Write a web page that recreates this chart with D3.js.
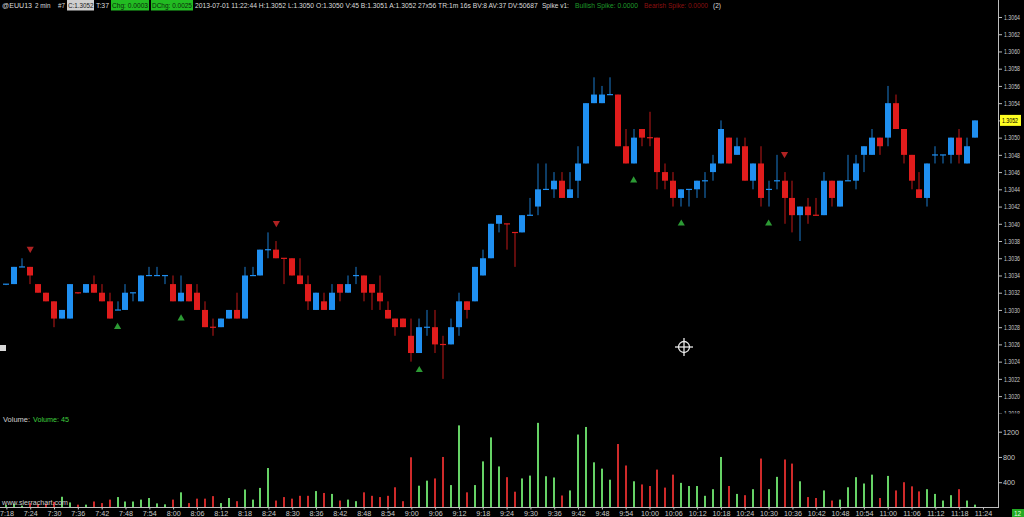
<!DOCTYPE html>
<html><head><meta charset="utf-8">
<script src="https://cdn.jsdelivr.net/npm/d3@7/dist/d3.min.js"></script>
<style>
html,body{margin:0;padding:0;background:#000;overflow:hidden}
svg{display:block}
text{font-family:"Liberation Sans",Arial,sans-serif}
</style>
</head><body>
<svg id="c" width="1024" height="517"></svg>
<script>
// ---- DATA (2-minute bars, 7:18 .. 11:22) ----
const opens=[1.3033,1.3033,1.3035,1.3035,1.3033,1.3032,1.3031,1.3029,1.3029,1.3032,
1.3032,1.3033,1.3032,1.3031,1.3030,1.3030,1.3032,1.3031,1.3034,1.3034,
1.3034,1.3033,1.3031,1.3033,1.3032,1.3030,1.3028,1.3028,1.3029,1.3030,
1.3029,1.3034,1.3034,1.3037,1.3037,1.3036,1.3036,1.3034,1.3033,1.3030,
1.3031,1.3030,1.3033,1.3032,1.3034,1.3034,1.3033,1.3032,1.3030,1.3029,
1.3029,1.3027,1.3025,1.3028,1.3028,1.3026,1.3026,1.3028,1.3031,1.3031,
1.3034,1.3036,1.3040,1.3040,1.3039,1.3039,1.3041,1.3042,1.3044,1.3044,
1.3045,1.3043,1.3045,1.3047,1.3054,1.3054,1.3055,1.3055,1.3049,1.3047,
1.3051,1.3050,1.3050,1.3046,1.3045,1.3043,1.3044,1.3044,1.3045,1.3046,
1.3047,1.3050,1.3048,1.3049,1.3045,1.3047,1.3044,1.3045,1.3045,1.3043,
1.3041,1.3042,1.3041,1.3041,1.3045,1.3042,1.3045,1.3045,1.3048,1.3048,
1.3050,1.3050,1.3054,1.3051,1.3048,1.3044,1.3043,1.3048,1.3048,1.3048,
1.3050,1.3047,1.3050];
const highs=[1.3033,1.3035,1.3036,1.3035,1.3033,1.3032,1.3031,1.3030,1.3033,1.3032,
1.3033,1.3034,1.3033,1.3032,1.3031,1.3033,1.3032,1.3034,1.3035,1.3035,
1.3034,1.3034,1.3034,1.3033,1.3033,1.3031,1.3029,1.3029,1.3030,1.3032,
1.3035,1.3035,1.3037,1.3039,1.3038,1.3036,1.3036,1.3036,1.3034,1.3032,
1.3032,1.3033,1.3033,1.3034,1.3035,1.3034,1.3033,1.3034,1.3031,1.3029,
1.3029,1.3029,1.3029,1.3030,1.3030,1.3027,1.3029,1.3032,1.3031,1.3035,
1.3037,1.3040,1.3041,1.3040,1.3039,1.3041,1.3043,1.3047,1.3047,1.3046,
1.3046,1.3046,1.3049,1.3054,1.3057,1.3056,1.3057,1.3055,1.3051,1.3051,
1.3051,1.3053,1.3050,1.3047,1.3046,1.3044,1.3044,1.3045,1.3046,1.3048,
1.3052,1.3050,1.3050,1.3050,1.3047,1.3049,1.3045,1.3048,1.3046,1.3045,
1.3042,1.3043,1.3043,1.3046,1.3045,1.3045,1.3048,1.3048,1.3049,1.3051,
1.3050,1.3056,1.3055,1.3051,1.3048,1.3046,1.3047,1.3049,1.3048,1.3050,
1.3051,1.3050,1.3052];
const lows=[1.3033,1.3033,1.3035,1.3033,1.3032,1.3031,1.3028,1.3029,1.3029,1.3032,
1.3032,1.3032,1.3031,1.3029,1.3030,1.3030,1.3031,1.3031,1.3034,1.3034,
1.3033,1.3031,1.3031,1.3031,1.3030,1.3028,1.3027,1.3028,1.3029,1.3029,
1.3029,1.3034,1.3034,1.3036,1.3036,1.3033,1.3034,1.3033,1.3030,1.3030,
1.3030,1.3030,1.3031,1.3032,1.3033,1.3031,1.3030,1.3030,1.3029,1.3027,
1.3028,1.3024,1.3025,1.3027,1.3025,1.3022,1.3026,1.3027,1.3029,1.3031,
1.3034,1.3036,1.3039,1.3037,1.3035,1.3039,1.3041,1.3041,1.3044,1.3043,
1.3043,1.3043,1.3043,1.3047,1.3054,1.3054,1.3055,1.3049,1.3047,1.3047,
1.3049,1.3049,1.3044,1.3044,1.3042,1.3042,1.3042,1.3043,1.3043,1.3045,
1.3047,1.3047,1.3048,1.3045,1.3044,1.3042,1.3042,1.3044,1.3040,1.3039,
1.3038,1.3040,1.3041,1.3041,1.3042,1.3042,1.3045,1.3044,1.3046,1.3048,
1.3048,1.3049,1.3051,1.3047,1.3044,1.3043,1.3042,1.3047,1.3047,1.3047,
1.3047,1.3047,1.3050];
const closes=[1.3033,1.3035,1.3035,1.3034,1.3032,1.3031,1.3029,1.3030,1.3033,1.3032,
1.3033,1.3032,1.3031,1.3029,1.3030,1.3032,1.3032,1.3034,1.3034,1.3034,
1.3034,1.3031,1.3032,1.3031,1.3030,1.3028,1.3028,1.3029,1.3030,1.3029,
1.3034,1.3034,1.3037,1.3037,1.3036,1.3036,1.3034,1.3033,1.3031,1.3032,
1.3030,1.3032,1.3032,1.3033,1.3034,1.3032,1.3032,1.3031,1.3029,1.3028,
1.3028,1.3025,1.3028,1.3028,1.3026,1.3026,1.3028,1.3031,1.3030,1.3035,
1.3036,1.3040,1.3041,1.3040,1.3039,1.3041,1.3041,1.3044,1.3044,1.3045,
1.3043,1.3044,1.3047,1.3054,1.3055,1.3055,1.3055,1.3049,1.3047,1.3050,
1.3050,1.3050,1.3046,1.3045,1.3043,1.3044,1.3044,1.3045,1.3045,1.3047,
1.3051,1.3047,1.3049,1.3045,1.3047,1.3043,1.3044,1.3045,1.3043,1.3041,
1.3042,1.3041,1.3041,1.3045,1.3043,1.3045,1.3045,1.3047,1.3049,1.3050,
1.3049,1.3054,1.3051,1.3048,1.3045,1.3043,1.3047,1.3048,1.3048,1.3050,
1.3048,1.3049,1.3052];
const volumes=[40,60,30,70,50,60,90,170,80,45,
45,95,70,125,165,95,95,125,150,65,
50,125,240,70,140,140,180,70,150,100,
285,125,310,625,110,165,140,185,185,260,
230,215,110,125,100,240,185,165,185,320,
100,795,345,425,460,800,355,1300,240,355,
730,1110,650,480,250,460,505,1340,495,475,
190,270,1155,1275,715,615,440,1005,665,415,
365,340,600,315,520,390,340,340,185,290,
800,340,215,195,290,775,290,485,760,695,
415,165,150,270,110,125,320,480,380,520,
150,500,270,400,335,255,290,215,110,195,
290,110,45];
const timeLabels=["7:18","7:24","7:30","7:36","7:42","7:48","7:54","8:00","8:06","8:12",
"8:18","8:24","8:30","8:36","8:42","8:48","8:54","9:00","9:06","9:12",
"9:18","9:24","9:30","9:36","9:42","9:48","9:54","10:00","10:06","10:12",
"10:18","10:24","10:30","10:36","10:42","10:48","10:54","11:00","11:06","11:12",
"11:18","11:24"];
const priceTicks=[1.3018,1.3020,1.3022,1.3024,1.3026,1.3028,1.3030,1.3032,1.3034,1.3036,
1.3038,1.3040,1.3042,1.3044,1.3046,1.3048,1.3050,1.3052,1.3054,1.3056,1.3058,1.3060,1.3062,1.3064];
const volumeTicks=[400,800,1200];
const bullishSpikes=[14,22,52,79,85,96];
const bearishSpikes=[3,34,98];
const lastPrice=1.3052;

// ---- CHART ----
const svg=d3.select("#c");
const W=1024,H=517,axisX=998,volBase=507.5;
const BLUE="#1f8ff0",RED="#e01c1c",VGREEN="#66d266",VRED="#cf2a2a";
const LBL="#c8c8c8";

const x=d3.scaleLinear().domain([0,123]).range([6.4,983]);
const y=d3.scaleLinear().domain([1.3020,1.3064]).range([396.1,17]);
const yv=d3.scaleLinear().domain([0,1200]).range([volBase,431.7]);

svg.append("rect").attr("width",W).attr("height",H).attr("fill","#000");

const defs=svg.append("defs");
defs.append("clipPath").attr("id","pclip").append("rect").attr("x",0).attr("y",12).attr("width",axisX).attr("height",398);
defs.append("clipPath").attr("id","lclip").append("rect").attr("x",axisX).attr("y",10).attr("width",26).attr("height",403.5);

// fit a text element's natural width to a target, within [minSize,maxSize]
function fit(sel,target,minSize,maxSize){
  sel.each(function(){
    const base=8; this.style.fontSize=base+"px";
    const w=this.getComputedTextLength();
    const s=Math.max(minSize,Math.min(maxSize,base*target/w));
    this.style.fontSize=s.toFixed(2)+"px";
  });
}

// bars data
const bars=opens.map((o,i)=>({i,o,h:highs[i],l:lows[i],c:closes[i],v:volumes[i]}));
let prevDir=1;
bars.forEach((b,k)=>{
  let d=Math.sign(Math.round((b.c-b.o)*1e5));
  if(d===0&&k>0) d=Math.sign(Math.round((b.c-bars[k-1].c)*1e5));
  if(d===0) d=prevDir;
  b.dir=d; prevDir=d;
});

const pg=svg.append("g").attr("clip-path","url(#pclip)");
const cg=pg.selectAll("g.candle").data(bars).join("g").attr("class","candle");
cg.append("rect")
  .attr("x",d=>Math.round(x(d.i))-0.5)
  .attr("width",1)
  .attr("y",d=>y(d.h))
  .attr("height",d=>Math.max(1,y(d.l)-y(d.h)))
  .attr("fill",d=>d.dir>0?BLUE:RED)
  .attr("opacity",0.85);
cg.append("rect")
  .attr("x",d=>Math.round(x(d.i))-3)
  .attr("width",6)
  .attr("y",d=>d.o===d.c?y(d.c)-0.5:y(Math.max(d.o,d.c)))
  .attr("height",d=>d.o===d.c?1.2:y(Math.min(d.o,d.c))-y(Math.max(d.o,d.c)))
  .attr("fill",d=>d.dir>0?BLUE:RED);

// spikes
const tri=d3.symbol().type(d3.symbolTriangle).size(22);
pg.selectAll("path.bull").data(bullishSpikes).join("path").attr("class","bull")
  .attr("d",tri).attr("fill","#2c9a34")
  .attr("transform",i=>`translate(${x(i)},${y(lows[i])+17})`);
pg.selectAll("path.bear").data(bearishSpikes).join("path").attr("class","bear")
  .attr("d",tri).attr("fill","#b02222")
  .attr("transform",i=>`translate(${x(i)},${y(highs[i])-18}) rotate(180)`);

// volume bars
svg.append("g").selectAll("rect").data(bars).join("rect")
  .attr("x",d=>Math.round(x(d.i))-1)
  .attr("width",2)
  .attr("y",d=>yv(d.v))
  .attr("height",d=>volBase-yv(d.v))
  .attr("fill",d=>d.dir>0?VGREEN:VRED);

// axes lines
svg.append("line").attr("x1",axisX+0.5).attr("x2",axisX+0.5).attr("y1",0).attr("y2",volBase).attr("stroke","#bdbdbd").attr("stroke-width",1);
svg.append("line").attr("x1",0).attr("x2",axisX+1).attr("y1",volBase).attr("y2",volBase).attr("stroke","#bdbdbd").attr("stroke-width",1);

function styleAxis(g,size){
  g.select(".domain").remove();
  g.selectAll("line").attr("stroke","#bdbdbd");
  g.selectAll("text").attr("fill",LBL).style("font-size",size+"px").style("font-family","Liberation Sans, Arial, sans-serif");
}

// price axis (clip applied on an untransformed wrapper)
const paWrap=svg.append("g").attr("clip-path","url(#lclip)");
const pa=paWrap.append("g").attr("transform",`translate(${axisX+1},0)`)
  .call(d3.axisRight(y).tickValues(priceTicks).tickFormat(d3.format(".4f")).tickSize(3).tickPadding(2));
styleAxis(pa,7);
pa.selectAll("text").attr("textLength",16).attr("lengthAdjust","spacingAndGlyphs");
// last price highlight
svg.append("rect").attr("x",axisX+2).attr("y",y(lastPrice)-5.5).attr("width",21).attr("height",11).attr("fill","#ffff22");
svg.append("text").attr("x",axisX+4).attr("y",y(lastPrice)).attr("dy","0.34em").attr("fill","#000")
  .style("font-size","7px").attr("textLength",16).attr("lengthAdjust","spacingAndGlyphs").text(d3.format(".4f")(lastPrice));

// volume axis
const va=svg.append("g").attr("transform",`translate(${axisX+1},0)`)
  .call(d3.axisRight(yv).tickValues(volumeTicks).tickFormat(d3.format("d")).tickSize(3).tickPadding(1));
styleAxis(va,7.2);

// time axis
const xa=svg.append("g").attr("transform",`translate(0,${volBase})`)
  .call(d3.axisBottom(x).tickValues(timeLabels.map((t,k)=>k*3)).tickFormat(i=>timeLabels[i/3]).tickSize(2).tickPadding(1));
styleAxis(xa,7.2);

// header
const hdr=svg.append("g");
function ht(txt,x0,x1,color,bg){
  if(bg) hdr.append("rect").attr("x",x0-1).attr("y",0).attr("width",x1-x0+2).attr("height",10.5).attr("fill",bg);
  const t=hdr.append("text").attr("x",x0).attr("y",8).attr("fill",color).text(txt);
  fit(t,x1-x0,6.3,7.8);
}
ht("@EUU13",2,32,"#dcdcdc");
ht("2 min",35,50,"#dcdcdc");
ht("#7",58,65,"#dcdcdc");
ht("C:1.3052",68,93,"#202020","#cfcfcf");
ht("T:37",96,109,"#dcdcdc");
ht("Chg: 0.0003",112,148,"#0a2a0a","#22bb22");
ht("DChg: 0.0025",152,192,"#0a2a0a","#22bb22");
ht("2013-07-01 11:22:44 H:1.3052 L:1.3050 O:1.3050 V:45 B:1.3051 A:1.3052 27x56 TR:1m 16s BV:8 AV:37 DV:50687",195,538,"#dcdcdc");
ht("Spike v1:",542,569,"#dcdcdc");
ht("Bullish Spike: 0.0000",575,638,"#1f9a2a");
ht("Bearish Spike: 0.0000",644,708,"#8c1010");
ht("(2)",713,721,"#dcdcdc");

// volume label + watermark
const lab=svg.append("g");
fit(lab.append("text").attr("x",3).attr("y",421.5).attr("fill","#d0d0d0").text("Volume:"),27,7,8);
fit(lab.append("text").attr("x",33).attr("y",421.5).attr("fill","#3fcf3f").text("Volume: 45"),36,7,8);
fit(lab.append("text").attr("x",2).attr("y",505).attr("fill","#cfcfcf").text("www.sierrachart.com"),66,7,8);

// misc markers
svg.append("rect").attr("x",0).attr("y",345).attr("width",6).attr("height",6).attr("fill","#d8d8d8");
const ch=svg.append("g").attr("transform","translate(684,347)").attr("stroke","#e8e8e8").attr("fill","none").attr("stroke-width",1.3);
ch.append("circle").attr("r",5.5);
ch.append("line").attr("x1",-9).attr("x2",9);
ch.append("line").attr("y1",-9).attr("y2",9);
svg.append("rect").attr("x",1012).attr("y",509).attr("width",12).attr("height",8).attr("fill","#22aa22");
svg.append("text").attr("x",1014).attr("y",516).attr("fill","#dfffdf").style("font-size","6.5px").text("12");
</script>
</body></html>
